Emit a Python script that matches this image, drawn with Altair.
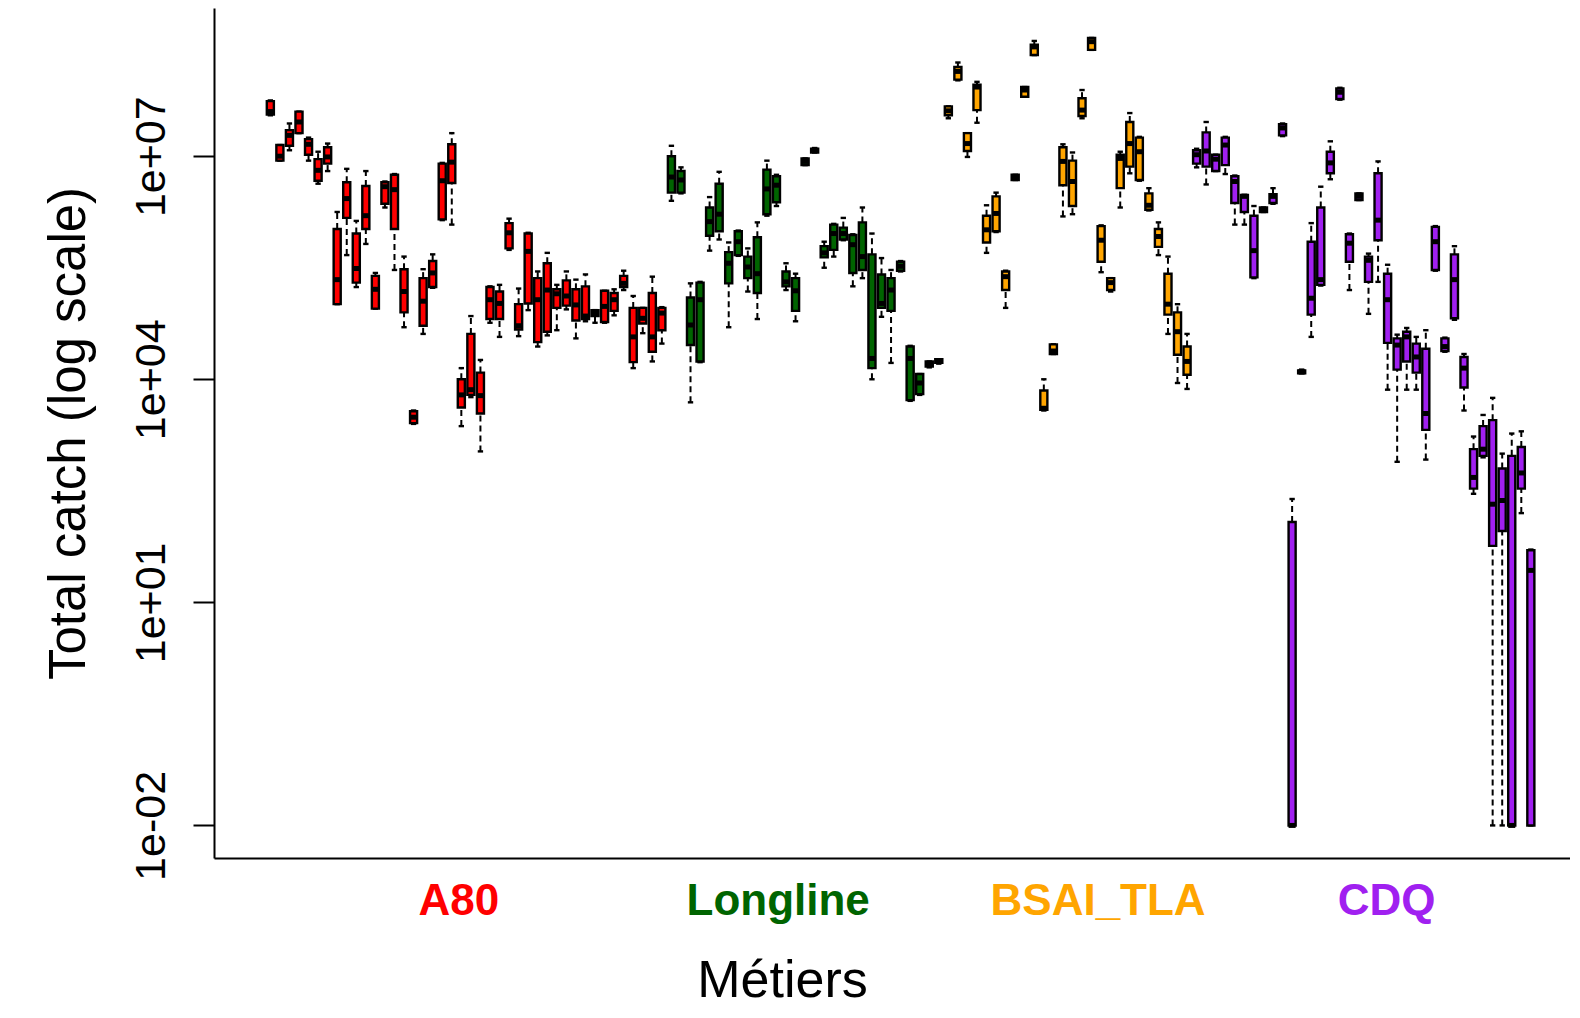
import altair as alt
import pandas as pd

# ---- data (log10 of total catch) ----
groups = ["A80", "Longline", "BSAI_TLA", "CDQ"]
group_colors = ["#FF0000", "#006400", "#FFA500", "#A020F0"]
group_sizes = [42, 29, 26, 36]
label_pos = [19.73, 53.18, 86.68, 116.9]

log_lo = [7.55, 6.94, 7.08, 7.31, 6.94, 6.63, 6.80, 5.01, 5.67, 5.24, 5.82, 4.95, 6.31, 5.47, 4.70, 3.40, 4.61, 5.23, 6.14, 6.08,
          3.37, 3.76, 3.03, 4.76, 4.57, 5.74, 4.58, 4.93, 4.44, 4.59, 4.66, 4.94, 4.55, 4.78, 4.76, 4.76, 4.86, 5.20, 4.15, 4.62,
          4.24, 4.48,
          6.40, 6.50, 3.69, 4.23, 5.73, 5.88, 4.70, 5.66, 5.18, 4.81, 6.20, 6.33, 5.20, 4.78, 6.88, 7.05, 5.50, 5.65, 5.87, 5.25,
          5.36, 4.00, 4.84, 4.22, 5.45, 3.71, 3.79, 4.16, 4.21,
          7.51, 8.02, 6.99, 7.45, 5.70, 5.98, 4.96, 6.68, 7.80, 8.36, 3.58, 4.34, 6.19, 6.22, 7.51, 8.43, 5.44, 5.18, 6.31, 6.77,
          6.67, 6.27, 5.67, 4.61, 3.95, 3.87,
          6.85, 6.62, 6.80, 6.76, 6.08, 6.08, 5.36, 6.25, 6.36, 7.27, -2.0, 4.08, 4.57, 5.26, 6.69, 7.76, 5.20, 6.41, 4.88, 5.31,
          3.86, 2.89, 3.86, 3.86, 2.92, 5.46, 4.37, 4.80, 3.58, 2.46, 2.95, -2.0, -2.0, -2.0, 2.20, -2.0]
log_q1 = [7.56, 6.94, 7.14, 7.31, 7.02, 6.67, 6.90, 5.01, 6.17, 5.30, 6.02, 4.95, 6.36, 6.02, 4.90, 3.41, 4.72, 5.24, 6.15, 6.64,
          3.62, 3.79, 3.54, 4.81, 4.81, 5.76, 4.67, 5.02, 4.50, 4.64, 4.96, 4.99, 4.79, 4.81, 4.85, 4.77, 4.92, 5.24, 4.23, 4.75,
          4.37, 4.66,
          6.51, 6.51, 4.46, 4.24, 5.93, 5.99, 5.29, 5.67, 5.36, 5.16, 6.22, 6.38, 5.25, 4.92, 6.88, 7.05, 5.64, 5.74, 5.88, 5.43,
          5.47, 4.15, 4.96, 4.92, 5.46, 3.72, 3.80, 4.17, 4.22,
          7.55, 8.03, 7.07, 7.62, 5.84, 5.99, 5.20, 6.68, 7.80, 8.36, 3.59, 4.34, 6.61, 6.33, 7.54, 8.43, 5.58, 5.20, 6.57, 6.86,
          6.68, 6.28, 5.78, 4.87, 4.33, 4.06,
          6.90, 6.86, 6.80, 6.88, 6.37, 6.25, 5.37, 6.25, 6.37, 7.28, -2.0, 4.08, 4.87, 5.27, 6.77, 7.77, 5.58, 6.41, 5.31, 5.87,
          4.49, 4.13, 4.24, 4.09, 3.32, 5.47, 4.38, 4.82, 3.89, 2.53, 2.97, 1.76, 1.96, -2.0, 2.53, -2.0]
log_med = [7.60, 7.00, 7.28, 7.46, 7.16, 6.81, 6.99, 5.34, 6.43, 5.49, 6.20, 5.21, 6.59, 6.55, 5.18, 3.49, 5.05, 5.43, 6.67, 6.92,
           3.79, 3.86, 3.78, 5.07, 5.02, 5.97, 4.72, 5.72, 5.07, 5.20, 5.15, 5.12, 5.00, 4.85, 4.89, 4.98, 5.07, 5.29, 4.57, 4.82,
           4.57, 4.89,
           6.72, 6.68, 4.73, 5.07, 6.12, 6.22, 5.56, 5.85, 5.51, 5.42, 6.56, 6.61, 5.31, 5.19, 6.93, 7.08, 5.70, 5.96, 5.96, 5.81,
           5.65, 4.28, 5.02, 5.20, 5.52, 4.28, 3.95, 4.20, 4.24,
           7.61, 8.14, 7.17, 7.93, 6.01, 6.23, 5.38, 6.71, 7.89, 8.47, 3.61, 4.38, 6.93, 6.66, 7.62, 8.54, 5.87, 5.30, 6.97, 7.17,
           7.06, 6.34, 5.92, 5.01, 4.64, 4.24,
           7.02, 7.07, 6.96, 7.15, 6.66, 6.46, 5.73, 6.28, 6.46, 7.38, -2.0, 4.10, 5.09, 5.34, 6.91, 7.86, 5.83, 6.46, 5.60, 6.14,
           5.07, 4.46, 4.57, 4.30, 3.54, 5.85, 4.44, 5.34, 4.15, 2.68, 3.06, 2.32, 2.37, -2.0, 2.74, 1.43]
log_q3 = [7.74, 7.15, 7.35, 7.60, 7.23, 6.96, 7.12, 6.02, 6.65, 5.96, 6.60, 5.39, 6.65, 6.75, 5.48, 3.57, 5.36, 5.59, 6.90, 7.16,
          4.00, 4.61, 4.09, 5.24, 5.18, 6.10, 5.01, 5.96, 5.36, 5.56, 5.21, 5.33, 5.21, 5.25, 4.93, 5.19, 5.16, 5.39, 4.96, 4.96,
          5.16, 4.96,
          7.00, 6.80, 5.10, 5.30, 6.31, 6.63, 5.71, 5.99, 5.65, 5.91, 6.82, 6.73, 5.45, 5.36, 6.97, 7.10, 5.79, 6.08, 6.04, 5.94,
          6.11, 5.68, 5.41, 5.36, 5.58, 4.44, 4.07, 4.24, 4.27,
          7.67, 8.20, 7.31, 7.96, 6.20, 6.46, 5.45, 6.75, 7.93, 8.50, 3.85, 4.47, 7.12, 6.94, 7.78, 8.59, 6.06, 5.36, 7.02, 7.46,
          7.25, 6.50, 6.02, 5.42, 4.90, 4.44,
          7.08, 7.32, 7.02, 7.25, 6.73, 6.48, 6.20, 6.31, 6.49, 7.43, 2.08, 4.12, 5.85, 6.31, 7.06, 7.91, 5.95, 6.50, 5.65, 6.77,
          5.42, 4.55, 4.64, 4.48, 4.41, 6.05, 4.55, 5.68, 4.30, 3.06, 3.37, 3.45, 2.80, 2.97, 3.09, 1.70]
log_hi = [7.75, 7.15, 7.44, 7.60, 7.25, 7.06, 7.17, 6.25, 6.83, 6.13, 6.80, 5.43, 6.66, 6.76, 5.65, 3.58, 5.48, 5.68, 6.91, 7.31,
          4.15, 4.85, 4.26, 5.25, 5.27, 6.16, 5.22, 5.97, 5.45, 5.70, 5.27, 5.45, 5.34, 5.41, 4.93, 5.19, 5.21, 5.46, 5.12, 4.96,
          5.38, 4.97,
          7.14, 6.85, 5.29, 5.31, 6.45, 6.79, 5.84, 6.00, 5.76, 6.11, 6.94, 6.75, 5.56, 5.42, 6.97, 7.11, 5.85, 6.09, 6.17, 5.95,
          6.31, 5.96, 5.63, 5.47, 5.59, 4.45, 4.07, 4.24, 4.27,
          7.67, 8.26, 7.31, 8.00, 6.34, 6.51, 5.46, 6.75, 7.93, 8.55, 4.00, 4.47, 7.16, 7.05, 7.89, 8.59, 6.07, 5.36, 7.06, 7.58,
          7.26, 6.57, 6.11, 5.65, 5.01, 4.61,
          7.10, 7.46, 7.02, 7.26, 6.74, 6.48, 6.33, 6.31, 6.57, 7.44, 2.39, 4.13, 6.10, 6.59, 7.20, 7.92, 5.96, 6.50, 5.69, 6.93,
          5.54, 4.60, 4.69, 4.57, 4.66, 6.06, 4.56, 5.79, 4.34, 3.23, 3.52, 3.75, 3.00, 3.27, 3.30, 1.71]

tick_values = [1e-2, 1e1, 1e4, 1e7]
tick_labels = ["1e-02", "1e+01", "1e+04", "1e+07"]

# ---- tables ----
group_col = []
for g, n in zip(groups, group_sizes):
    group_col += [g] * n

df = pd.DataFrame({
    "idx": list(range(len(log_lo))),
    "group": group_col,
    "lo": [10 ** v for v in log_lo],
    "q1": [10 ** v for v in log_q1],
    "med": [10 ** v for v in log_med],
    "q3": [10 ** v for v in log_q3],
    "hi": [10 ** v for v in log_hi],
})
labels_df = pd.DataFrame({"group": groups, "pos": label_pos})

label_expr = "''"
for v, lab in reversed(list(zip(tick_values, tick_labels))):
    label_expr = f"abs(datum.value - {v!r}) < {v * 1e-3!r} ? '{lab}' : ({label_expr})"

FONT = "Liberation Sans"

xscale = alt.Scale(domain=[-5.9, 136.1], nice=False, zero=False)
xaxis = alt.Axis(title="Métiers", labels=False, ticks=False, grid=False,
                 domainColor="black", domainWidth=2,
                 titleFont=FONT, titleFontSize=52, titleFontWeight="normal", titleColor="black",
                 titleX=568, titleY=122, titleAlign="center", titleBaseline="middle")
yscale = alt.Scale(type="log", domain=[10 ** -2.438, 10 ** 8.993], nice=False)
yaxis = alt.Axis(title="Total catch (log scale)", values=tick_values, labelExpr=label_expr,
                 grid=False, domainColor="black", domainWidth=2,
                 tickColor="black", tickWidth=2, tickSize=21,
                 labelFont=FONT, labelFontSize=43, labelColor="black",
                 labelAngle=-90, labelAlign="center", labelBaseline="bottom",
                 labelPadding=20, labelOverlap=False, labelFlush=False,
                 titleFont=FONT, titleFontSize=51, titleFontWeight="normal", titleColor="black",
                 titleAngle=-90, titleX=-145, titleY=425, titleAlign="center", titleBaseline="middle")

color_scale = alt.Scale(domain=groups, range=group_colors)


def X(field):
    return alt.X(field, type="quantitative", scale=xscale, axis=xaxis)


def Y(field):
    return alt.Y(field, type="quantitative", scale=yscale, axis=yaxis)


base = alt.Chart(df).transform_calculate(
    bl="datum.idx - 0.37", br="datum.idx + 0.37",
    cl="datum.idx - 0.28", cr="datum.idx + 0.28",
)

whisk_up = base.mark_rule(color="black", strokeWidth=2, strokeDash=[6, 4]).encode(
    x=X("idx"), y=Y("q3"), y2="hi:Q")
whisk_dn = base.mark_rule(color="black", strokeWidth=2, strokeDash=[6, 4]).encode(
    x=X("idx"), y=Y("lo"), y2="q1:Q")
cap_up = base.mark_rule(color="black", strokeWidth=2.4).encode(
    x=X("cl"), x2="cr:Q", y=Y("hi"))
cap_dn = base.mark_rule(color="black", strokeWidth=2.4).encode(
    x=X("cl"), x2="cr:Q", y=Y("lo"))
boxes = base.mark_rect(stroke="black", strokeWidth=2.4).encode(
    x=X("bl"), x2="br:Q", y=Y("q1"), y2="q3:Q",
    fill=alt.Fill("group:N", scale=color_scale, legend=None))
medians = base.mark_rule(color="black", strokeWidth=5).encode(
    x=X("bl"), x2="br:Q", y=Y("med"))
group_labels = alt.Chart(labels_df).mark_text(
    font=FONT, fontSize=44, fontWeight="bold", baseline="middle", align="center").encode(
    x=X("pos"), y=alt.value(894), text="group:N",
    color=alt.Color("group:N", scale=color_scale, legend=None))

chart = alt.layer(whisk_up, whisk_dn, cap_up, cap_dn, boxes, medians, group_labels).properties(
    width=1356, height=850,
    autosize=alt.AutoSizeParams(type="none"),
    padding={"left": 206, "top": 0, "right": 0, "bottom": 150},
    background="white",
).configure_view(stroke=None)

chart.save("out.html", embed_options={"renderer": "svg", "actions": False})
